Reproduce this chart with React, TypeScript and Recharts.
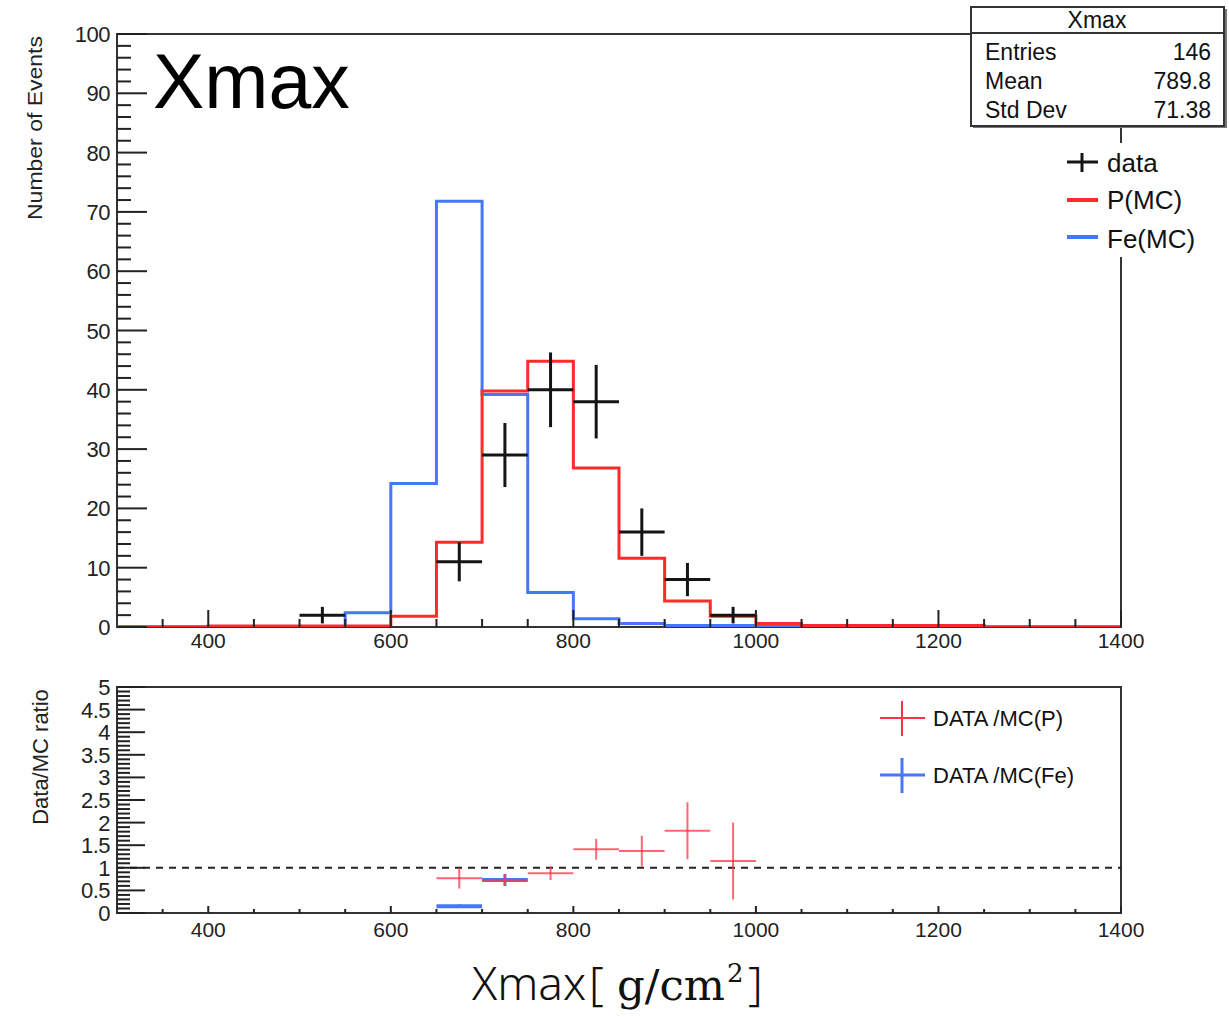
import {
  ComposedChart,
  Line,
  Scatter,
  ErrorBar,
  XAxis,
  YAxis,
  ReferenceArea,
  ReferenceLine,
  Legend,
} from "recharts";

// histogram binning: 22 bins of 50 g/cm2 from 300 to 1400
const BIN_EDGES = [
  300, 350, 400, 450, 500, 550, 600, 650, 700, 750, 800, 850, 900, 950, 1000,
  1050, 1100, 1150, 1200, 1250, 1300, 1350, 1400,
];

// MC expectations per bin
const P_MC = [
  0.05, 0.05, 0.15, 0.15, 0.15, 0.15, 1.8, 14.3, 39.8, 44.8, 26.8, 11.6, 4.4,
  1.8, 0.6, 0.25, 0.25, 0.25, 0.25, 0.05, 0.05, 0.05,
];
const FE_MC = [
  0, 0, 0, 0, 0, 2.4, 24.2, 71.8, 39.2, 5.8, 1.4, 0.6, 0.25, 0.25, 0.15, 0, 0,
  0, 0, 0, 0, 0,
];

// observed events (bin centres, counts, errors)
const DATA_X = [525, 675, 725, 775, 825, 875, 925, 975];
const DATA_N = [2, 11, 29, 40, 38, 16, 8, 2];
const DATA_ERR = [1.4, 3.3, 5.4, 6.3, 6.2, 4.0, 2.8, 1.4];
const HALF_BIN = 25;

// data / MC ratios
const RATIO_P_X = [675, 725, 775, 825, 875, 925, 975];
const RATIO_P = [0.77, 0.73, 0.88, 1.41, 1.37, 1.82, 1.15];
const RATIO_P_ERR = [0.23, 0.13, 0.15, 0.23, 0.34, 0.63, 0.85];
const RATIO_FE_X = [675, 725];
const RATIO_FE = [0.15, 0.73];
const RATIO_FE_ERR = [0.04, 0.13];

const X_LABELS = [400, 600, 800, 1000, 1200, 1400];
const Y_LABELS = [0, 10, 20, 30, 40, 50, 60, 70, 80, 90, 100];
const R_LABELS = [0, 0.5, 1, 1.5, 2, 2.5, 3, 3.5, 4, 4.5, 5];

const STATS = [
  ["Entries", "146"],
  ["Mean", "789.8"],
  ["Std Dev", "71.38"],
];

const RED = "#ff2b2b";
const BLUE = "#4677f5";
const RATIO_RED = "#ff3346";
const INK = "#151515";
const SANS = "'Liberation Sans', Arial, Helvetica, sans-serif";

const range = (from: number, to: number, step: number) => {
  const out: number[] = [];
  for (let v = from; v <= to + 1e-9; v += step) out.push(Math.round(v * 100) / 100);
  return out;
};

const X_TICKS = range(350, 1400, 50);
const Y_TICKS = range(0, 100, 2);
const R_TICKS = range(0, 5, 0.1);

const stepRows = (vals: number[]) => [
  ...vals.map((v, i) => ({ x: BIN_EDGES[i], y: v })),
  { x: BIN_EDGES[vals.length], y: vals[vals.length - 1] },
];

const pointRows = (xs: number[], ys: number[], errs: number[]) =>
  xs.map((x, i) => ({ x, y: ys[i], ex: HALF_BIN, ey: errs[i] }));

const pSteps = stepRows(P_MC);
const feSteps = stepRows(FE_MC);
const dataPoints = pointRows(DATA_X, DATA_N, DATA_ERR);
const ratioP = pointRows(RATIO_P_X, RATIO_P, RATIO_P_ERR);
const ratioFe = pointRows(RATIO_FE_X, RATIO_FE, RATIO_FE_ERR);

const isIn = (list: number[], v: number) => list.some((l) => Math.abs(l - v) < 1e-6);

// ROOT style ticks: drawn inward from the frame, long for labelled values
const xTick = (major: number, minor: number, gap: number) => (props: any) => {
  const { x, y, payload } = props;
  const big = isIn(X_LABELS, payload.value);
  return (
    <g>
      <line x1={x} x2={x} y1={y} y2={y - (big ? major : minor)} stroke="#222" strokeWidth={2} />
      {big && (
        <text x={x} y={y + gap} textAnchor="middle" fontFamily={SANS} fontSize={21} fill="#222">
          {payload.value}
        </text>
      )}
    </g>
  );
};

const yTick = (labels: number[], major: number, minor: number) => (props: any) => {
  const { x, y, payload } = props;
  const big = isIn(labels, payload.value);
  return (
    <g>
      <line x1={x} x2={x + (big ? major : minor)} y1={y} y2={y} stroke="#222" strokeWidth={2} />
      {big && (
        <text x={x - 7} y={y + 8} textAnchor="end" fontFamily={SANS} fontSize={22} fill="#222" letterSpacing={-0.5}>
          {payload.value}
        </text>
      )}
    </g>
  );
};

const hideShape = () => <g />;

const TopLegend = () => (
  <svg width={160} height={114} style={{ display: "block", background: "#fff" }}>
    <line x1={5} x2={36} y1={19} y2={19} stroke={INK} strokeWidth={3} />
    <line x1={20} x2={20} y1={10} y2={29} stroke={INK} strokeWidth={3} />
    <text x={45} y={29} fontFamily={SANS} fontSize={26} fill="#111">data</text>
    <line x1={5} x2={36} y1={57} y2={57} stroke={RED} strokeWidth={4} />
    <text x={45} y={66} fontFamily={SANS} fontSize={26} fill="#111">P(MC)</text>
    <line x1={5} x2={36} y1={94} y2={94} stroke={BLUE} strokeWidth={4} />
    <text x={45} y={105} fontFamily={SANS} fontSize={26} fill="#111">Fe(MC)</text>
  </svg>
);

const RatioLegend = () => (
  <svg width={220} height={100} style={{ display: "block", background: "#fff" }}>
    <line x1={8} x2={53} y1={20} y2={20} stroke={RATIO_RED} strokeWidth={2} />
    <line x1={30} x2={30} y1={3} y2={38} stroke={RATIO_RED} strokeWidth={2} />
    <text x={61} y={28} fontFamily={SANS} fontSize={22} fill="#111">DATA /MC(P)</text>
    <line x1={8} x2={53} y1={77} y2={77} stroke={BLUE} strokeWidth={3} />
    <line x1={30} x2={30} y1={60} y2={95} stroke={BLUE} strokeWidth={3} />
    <text x={61} y={85} fontFamily={SANS} fontSize={22} fill="#111">DATA /MC(Fe)</text>
  </svg>
);

// axes are 1px thick so the tick layer still renders; margins absorb that pixel
const TopPanel = () => (
  <ComposedChart width={1229} height={665} margin={{ top: 34, right: 108, bottom: 37, left: 116 }}>
    <XAxis
      type="number"
      dataKey="x"
      domain={[300, 1400]}
      allowDataOverflow
      ticks={X_TICKS}
      interval={0}
      height={1}
      tickSize={0}
      tickMargin={0}
      axisLine={false}
      tickLine={false}
      tick={xTick(17, 8, 21)}
    />
    <YAxis
      type="number"
      dataKey="y"
      domain={[0, 100]}
      allowDataOverflow
      ticks={Y_TICKS}
      interval={0}
      width={1}
      tickSize={0}
      tickMargin={0}
      axisLine={false}
      tickLine={false}
      tick={yTick(Y_LABELS, 30, 14)}
    />
    <ReferenceArea x1={300} x2={1400} y1={0} y2={100} fill="none" stroke="#333" strokeWidth={2} ifOverflow="visible" />
    <Line data={feSteps} dataKey="y" type="stepAfter" stroke={BLUE} strokeWidth={3} dot={false} activeDot={false} isAnimationActive={false} />
    <Line data={pSteps} dataKey="y" type="stepAfter" stroke={RED} strokeWidth={3} dot={false} activeDot={false} isAnimationActive={false} />
    <Scatter data={dataPoints} dataKey="y" shape={hideShape} isAnimationActive={false}>
      <ErrorBar dataKey="ex" direction="x" width={0} stroke={INK} strokeWidth={3} />
      <ErrorBar dataKey="ey" direction="y" width={0} stroke={INK} strokeWidth={3} />
    </Scatter>
    <Legend
      layout="vertical"
      align="center"
      verticalAlign="middle"
      content={TopLegend}
      wrapperStyle={{ position: "absolute", left: 1062, top: 143, width: 160, height: 114 }}
    />
  </ComposedChart>
);

const RatioPanel = () => (
  <ComposedChart width={1229} height={352} margin={{ top: 22, right: 108, bottom: 103, left: 116 }}>
    <XAxis
      type="number"
      dataKey="x"
      domain={[300, 1400]}
      allowDataOverflow
      ticks={X_TICKS}
      interval={0}
      height={1}
      tickSize={0}
      tickMargin={0}
      axisLine={false}
      tickLine={false}
      tick={xTick(7, 4, 24)}
    />
    <YAxis
      type="number"
      dataKey="y"
      domain={[0, 5]}
      allowDataOverflow
      ticks={R_TICKS}
      interval={0}
      width={1}
      tickSize={0}
      tickMargin={0}
      axisLine={false}
      tickLine={false}
      tick={yTick(R_LABELS, 28, 13)}
    />
    <ReferenceArea x1={300} x2={1400} y1={0} y2={5} fill="none" stroke="#333" strokeWidth={2} ifOverflow="visible" />
    <ReferenceLine y={1} stroke="#222" strokeWidth={2} strokeDasharray="7 6" />
    <Scatter data={ratioFe} dataKey="y" shape={hideShape} isAnimationActive={false}>
      <ErrorBar dataKey="ex" direction="x" width={0} stroke={BLUE} strokeWidth={4} />
      <ErrorBar dataKey="ey" direction="y" width={0} stroke={BLUE} strokeWidth={3} />
    </Scatter>
    <Scatter data={ratioP} dataKey="y" shape={hideShape} isAnimationActive={false}>
      <ErrorBar dataKey="ex" direction="x" width={0} stroke={RATIO_RED} strokeOpacity={0.75} strokeWidth={2} />
      <ErrorBar dataKey="ey" direction="y" width={0} stroke={RATIO_RED} strokeOpacity={0.75} strokeWidth={2} />
    </Scatter>
    <Legend
      layout="vertical"
      align="center"
      verticalAlign="middle"
      content={RatioLegend}
      wrapperStyle={{ position: "absolute", left: 872, top: 33, width: 220, height: 100 }}
    />
  </ComposedChart>
);

export default function App() {
  return (
    <div style={{ position: "absolute", left: 0, top: 0, width: 1229, height: 1017, background: "#fff", overflow: "hidden" }}>
      <div style={{ position: "absolute", left: 0, top: 0 }}>
        <TopPanel />
      </div>
      <div style={{ position: "absolute", left: 0, top: 665 }}>
        <RatioPanel />
      </div>
      <svg width={1229} height={1017} style={{ position: "absolute", left: 0, top: 0, pointerEvents: "none" }}>
        {/* big title in the pad corner */}
        <text x={153} y={108} fontFamily={SANS} fontSize={77} fill="#000">Xmax</text>

        {/* statistics box */}
        <rect x={973} y={9} width={254} height={119} fill="#777" />
        <rect x={971} y={7} width={253} height={119} fill="#fff" stroke="#333" strokeWidth={2} />
        <line x1={971} x2={1224} y1={33} y2={33} stroke="#333" strokeWidth={2} />
        <text x={1097} y={28} textAnchor="middle" fontFamily={SANS} fontSize={23} fill="#111">Xmax</text>
        {STATS.map(([k, v], i) => (
          <g key={k}>
            <text x={985} y={60 + i * 29} fontFamily={SANS} fontSize={23} fill="#111">{k}</text>
            <text x={1211} y={60 + i * 29} textAnchor="end" fontFamily={SANS} fontSize={23} fill="#111">{v}</text>
          </g>
        ))}

        {/* axis titles */}
        <text
          transform="translate(42,128) rotate(-90)"
          textAnchor="middle"
          fontFamily={SANS}
          fontSize={21}
          textLength={184}
          lengthAdjust="spacingAndGlyphs"
          fill="#222"
        >
          Number of Events
        </text>
        <text
          transform="translate(48,757) rotate(-90)"
          textAnchor="middle"
          fontFamily={SANS}
          fontSize={22}
          fill="#222"
        >
          Data/MC ratio
        </text>
        <text x={472} y={1000} fontFamily="'Noto Sans', sans-serif" fontWeight={300} fontSize={46} fill="#111">Xmax</text>
        <text x={589} y={1000} fontFamily="'Noto Sans', sans-serif" fontWeight={300} fontSize={46} fill="#111">[</text>
        <text
          x={617}
          y={1000}
          fontFamily="'DejaVu Serif', 'Liberation Serif', serif"
          fontSize={42}
          textLength={108}
          lengthAdjust="spacingAndGlyphs"
          fill="#111"
        >
          g/cm
        </text>
        <text x={727} y={982} fontFamily="'DejaVu Serif', 'Liberation Serif', serif" fontSize={26} fill="#111">2</text>
        <text x={748} y={1000} fontFamily="'Noto Sans', sans-serif" fontWeight={300} fontSize={46} fill="#111">]</text>
      </svg>
    </div>
  );
}
